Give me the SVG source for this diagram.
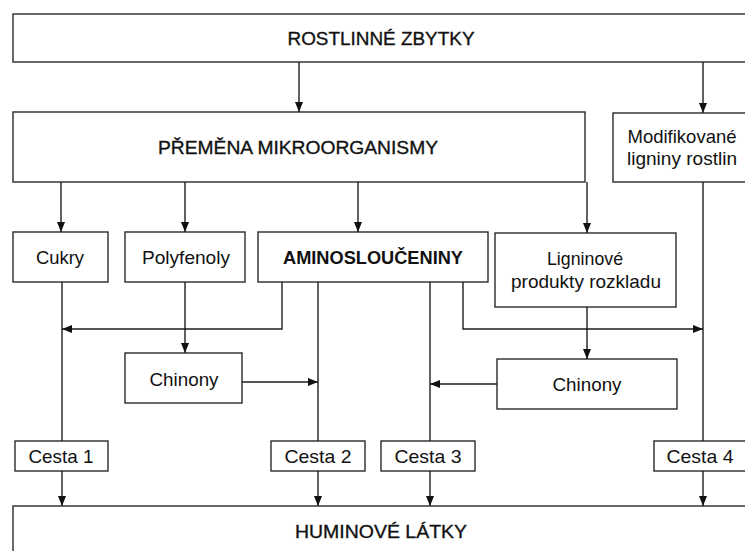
<svg xmlns="http://www.w3.org/2000/svg" width="745" height="551" viewBox="0 0 745 551">
<style>
  .box { fill: #ffffff; stroke: #2a2a2a; stroke-width: 1.4; }
  .t { font-family: "Liberation Sans", Arial, sans-serif; font-size: 19px; fill: #111111; text-anchor: middle; }
  .h { stroke: #111111; stroke-width: 0.35; }
  .b { font-weight: bold; }
  .c { fill: none; stroke: #1e1e1e; stroke-width: 1.4; }
</style>
<defs>
  <marker id="arr" markerUnits="userSpaceOnUse" markerWidth="12" markerHeight="12" viewBox="0 0 12 12" refX="11" refY="6" orient="auto">
    <path d="M1,2 L11,6 L1,10 Z" fill="#111111"/>
  </marker>
</defs>
<rect width="745" height="551" fill="#ffffff"/>

<g id="rostlinne-zbytky">
  <rect class="box" x="13" y="14" width="750" height="48"/>
  <text class="t h" x="381" y="45" textLength="187" lengthAdjust="spacingAndGlyphs">ROSTLINNÉ  ZBYTKY</text>
</g>
<g id="premena">
  <rect class="box" x="13" y="112" width="572" height="70"/>
  <text class="t h" x="298" y="154" textLength="280" lengthAdjust="spacingAndGlyphs">PŘEMĚNA  MIKROORGANISMY</text>
</g>
<g id="modifikovane">
  <rect class="box" x="613" y="113" width="150" height="69"/>
  <text class="t" x="682" y="143" textLength="109" lengthAdjust="spacingAndGlyphs">Modifikované</text>
  <text class="t" x="682" y="165" textLength="110" lengthAdjust="spacingAndGlyphs">ligniny rostlin</text>
</g>
<g id="cukry">
  <rect class="box" x="13" y="232" width="95" height="50"/>
  <text class="t" x="60" y="264" textLength="48" lengthAdjust="spacingAndGlyphs">Cukry</text>
</g>
<g id="polyfenoly">
  <rect class="box" x="125" y="232" width="120" height="50"/>
  <text class="t" x="186" y="264" textLength="88" lengthAdjust="spacingAndGlyphs">Polyfenoly</text>
</g>
<g id="aminoslouceniny">
  <rect class="box" x="258" y="232" width="230" height="50"/>
  <text class="t b" x="373" y="264" textLength="180" lengthAdjust="spacingAndGlyphs">AMINOSLOUČENINY</text>
</g>
<g id="ligninove">
  <rect class="box" x="495" y="233" width="181" height="74"/>
  <text class="t" x="585" y="265" textLength="76" lengthAdjust="spacingAndGlyphs">Ligninové</text>
  <text class="t" x="586" y="288" textLength="150" lengthAdjust="spacingAndGlyphs">produkty rozkladu</text>
</g>
<g id="chinony-1">
  <rect class="box" x="125" y="353" width="117" height="50"/>
  <text class="t" x="184" y="386" textLength="69" lengthAdjust="spacingAndGlyphs">Chinony</text>
</g>
<g id="chinony-2">
  <rect class="box" x="497" y="359" width="180" height="50"/>
  <text class="t" x="587" y="391" textLength="69" lengthAdjust="spacingAndGlyphs">Chinony</text>
</g>
<g id="cesta-1">
  <rect class="box" x="15" y="441" width="93" height="30"/>
  <text class="t" x="61" y="463" textLength="65" lengthAdjust="spacingAndGlyphs">Cesta 1</text>
</g>
<g id="cesta-2">
  <rect class="box" x="271" y="441" width="94" height="30"/>
  <text class="t" x="318" y="463" textLength="67" lengthAdjust="spacingAndGlyphs">Cesta 2</text>
</g>
<g id="cesta-3">
  <rect class="box" x="381" y="441" width="94" height="30"/>
  <text class="t" x="428" y="463" textLength="67" lengthAdjust="spacingAndGlyphs">Cesta 3</text>
</g>
<g id="cesta-4">
  <rect class="box" x="654" y="441" width="110" height="30"/>
  <text class="t" x="700" y="463" textLength="67" lengthAdjust="spacingAndGlyphs">Cesta 4</text>
</g>
<g id="huminove-latky">
  <rect class="box" x="13" y="506" width="750" height="60"/>
  <text class="t h" x="381" y="538" textLength="172" lengthAdjust="spacingAndGlyphs">HUMINOVÉ  LÁTKY</text>
</g>

<g id="connectors">
  <path class="c" d="M299,62 V112" marker-end="url(#arr)"/>
  <path class="c" d="M703,62 V113" marker-end="url(#arr)"/>
  <path class="c" d="M61,182 V232" marker-end="url(#arr)"/>
  <path class="c" d="M185,182 V232" marker-end="url(#arr)"/>
  <path class="c" d="M358,182 V232" marker-end="url(#arr)"/>
  <path class="c" d="M587,182 V233" marker-end="url(#arr)"/>
  <path class="c" d="M62,282 V441"/>
  <path class="c" d="M282,282 V329 H62" marker-end="url(#arr)"/>
  <path class="c" d="M185,282 V353" marker-end="url(#arr)"/>
  <path class="c" d="M242,382 H318" marker-end="url(#arr)"/>
  <path class="c" d="M318,282 V441"/>
  <path class="c" d="M430,282 V441"/>
  <path class="c" d="M497,384 H430" marker-end="url(#arr)"/>
  <path class="c" d="M463,282 V329 H703" marker-end="url(#arr)"/>
  <path class="c" d="M587,307 V359" marker-end="url(#arr)"/>
  <path class="c" d="M703,182 V441"/>
  <path class="c" d="M62,471 V506" marker-end="url(#arr)"/>
  <path class="c" d="M318,471 V506" marker-end="url(#arr)"/>
  <path class="c" d="M430,471 V506" marker-end="url(#arr)"/>
  <path class="c" d="M703,471 V506" marker-end="url(#arr)"/>
</g>
</svg>
